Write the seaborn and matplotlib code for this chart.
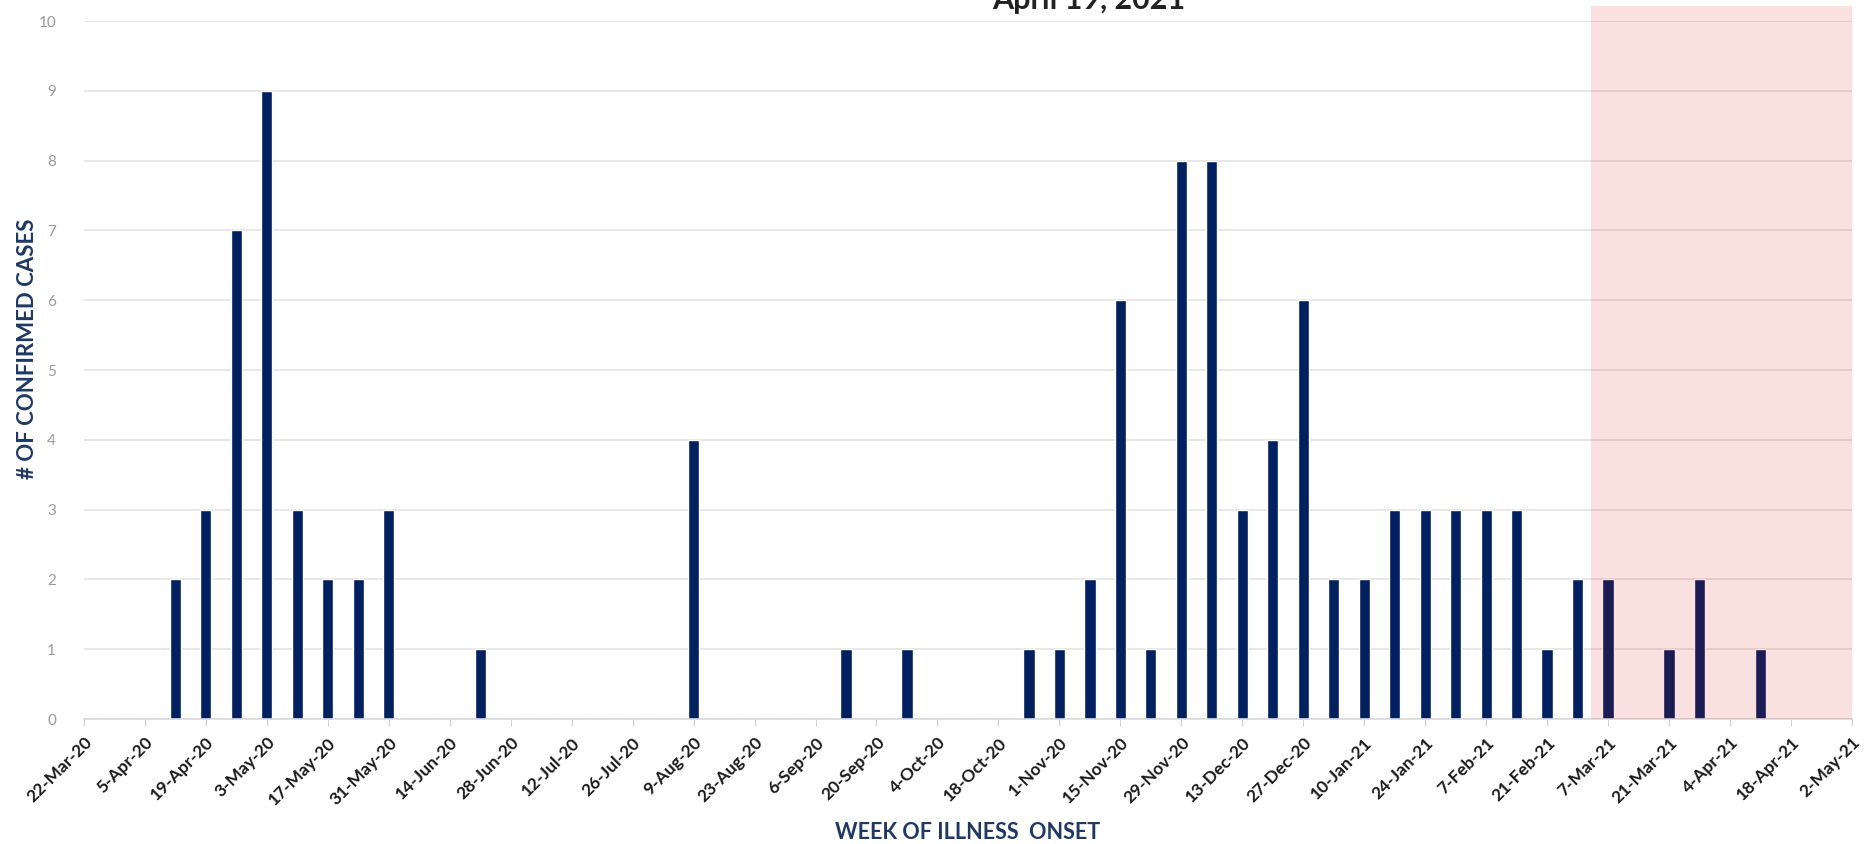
import pandas as pd
import matplotlib.pyplot as plt
from matplotlib.patches import Rectangle
import seaborn as sns

# Weekly confirmed cases by week of illness onset (weeks start on Sunday)
weeks = pd.date_range('2020-03-22', '2021-05-02', freq='7D')
case_weeks = ['2020-04-12', '2020-04-19', '2020-04-26', '2020-05-03', '2020-05-10',
              '2020-05-17', '2020-05-24', '2020-05-31', '2020-06-21', '2020-08-09',
              '2020-09-13', '2020-09-27', '2020-10-25', '2020-11-01', '2020-11-08',
              '2020-11-15', '2020-11-22', '2020-11-29', '2020-12-06', '2020-12-13',
              '2020-12-20', '2020-12-27', '2021-01-03', '2021-01-10', '2021-01-17',
              '2021-01-24', '2021-01-31', '2021-02-07', '2021-02-14', '2021-02-21',
              '2021-02-28', '2021-03-07', '2021-03-21', '2021-03-28', '2021-04-11']
case_counts = [2, 3, 7, 9, 3,
               2, 2, 3, 1, 4,
               1, 1, 1, 1, 2,
               6, 1, 8, 8, 3,
               4, 6, 2, 2, 3,
               3, 3, 3, 3, 1,
               2, 2, 1, 2, 1]
# incomplete reporting period (shaded)
shade_start_week = '2021-03-03'
shade_end_week = '2021-05-02'

counts = dict(zip(pd.to_datetime(case_weeks), case_counts))
df = pd.DataFrame({'week': weeks.strftime('%-d-%b-%y'),
                   'cases': [counts.get(w, 0) for w in weeks]})

sns.set_style('white')
plt.rcParams['font.family'] = ['Lato', 'DejaVu Sans']

navy = '#002060'
fig = plt.figure(figsize=(18.65, 8.44), dpi=100)
ax = fig.add_axes([0.045, 0.148, 0.948, 0.827])

sns.barplot(data=df, x='week', y='cases', color=navy, width=0.37,
            saturation=1, ax=ax, zorder=2)

# shaded region, drawn over the bars like the original
x0 = (pd.Timestamp(shade_start_week) - weeks[0]).days / 7
x1 = (pd.Timestamp(shade_end_week) - weeks[0]).days / 7
ax.add_patch(Rectangle((x0, 0), x1 - x0, 10.22, facecolor='#e60000', alpha=0.12,
                       edgecolor='none', zorder=3, clip_on=False))

ax.set_xlim(0, len(weeks) - 1)
ax.set_ylim(0, 10)
ax.set_yticks(range(0, 11))
ax.set_yticklabels([str(v) for v in range(0, 11)], fontsize=11, color='#9a9a9a')
ax.tick_params(axis='y', length=0, pad=20)

ax.set_xticks(range(0, len(weeks), 2))
ax.set_xticklabels(df['week'][::2], rotation=45, ha='right', rotation_mode='anchor',
                   fontsize=12.5, fontweight='bold', color='#1a1a1a')
ax.tick_params(axis='x', length=5, color='#d0d0d0', pad=6, bottom=True)

ax.grid(axis='y', color='#e3e3e3', linewidth=1.2, zorder=0)
ax.set_axisbelow(True)
for s in ['top', 'right', 'left']:
    ax.spines[s].set_visible(False)
ax.spines['bottom'].set_color('#d9d9d9')
ax.spines['bottom'].set_linewidth(1.2)

ax.set_xlabel('WEEK OF ILLNESS  ONSET', fontsize=15.5, fontweight='bold',
              color='#1f3864')
ax.set_ylabel('# OF CONFIRMED CASES', fontsize=16, fontweight='bold',
              color='#1f3864')
ax.xaxis.set_label_coords(0.5, -0.147)
ax.yaxis.set_label_coords(-0.026, 0.53)

# title cut off at the top edge of the original image
fig.text(0.584, 1 - 9 / 844, 'April 19, 2021', ha='center', va='baseline',
         fontsize=22, fontweight='bold', color='#222222')

fig.savefig('out.png', dpi=100)
